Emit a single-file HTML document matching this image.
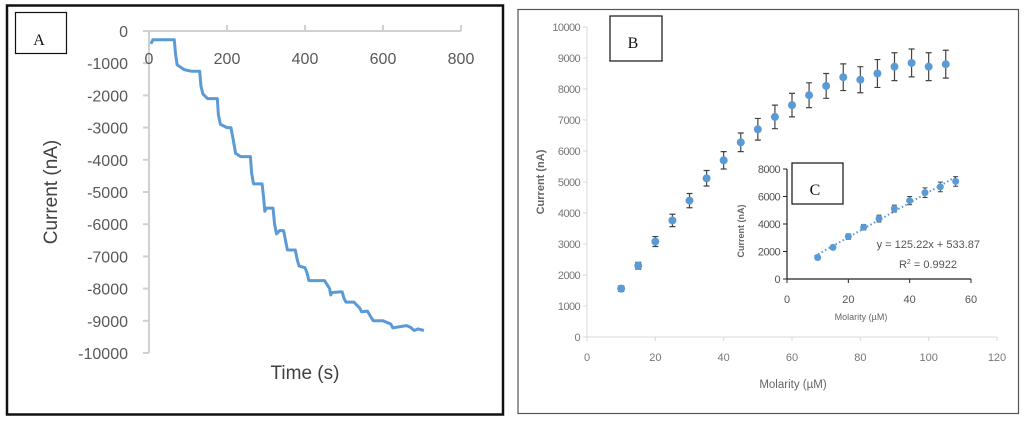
<!DOCTYPE html>
<html><head><meta charset="utf-8"><style>
body{margin:0;background:#fff;width:1024px;height:421px;overflow:hidden;font-family:"Liberation Sans",sans-serif}
svg{position:absolute;left:0;top:0}
</style></head><body>
<svg width="1024" height="421" viewBox="0 0 1024 421">
<g id="panelA">
<rect x="7" y="5.5" width="496" height="409" fill="none" stroke="#111" stroke-width="2.5"/>
<rect x="15.5" y="12.5" width="51" height="41" fill="#fff" stroke="#111" stroke-width="1.2"/>
<text x="39" y="45" font-family="Liberation Serif,serif" font-size="16" text-anchor="middle" fill="#111">A</text>
<g id="axA"></g>
<text x="305" y="379" font-size="19" text-anchor="middle" fill="#404040">Time (s)</text>
<text transform="translate(57,192) rotate(-90)" font-size="19" text-anchor="middle" fill="#404040">Current (nA)</text>
</g>
<g id="panelB">
<rect x="518" y="9.5" width="500.5" height="404" fill="none" stroke="#555" stroke-width="1.2"/>
<g id="axB"></g>
<rect x="610" y="16" width="52" height="45" fill="#fff" stroke="#111" stroke-width="1.2"/>
<text x="633" y="48" font-family="Liberation Serif,serif" font-size="16" text-anchor="middle" fill="#111">B</text>
<text x="793" y="388" font-size="11.5" text-anchor="middle" fill="#666">Molarity (µM)</text>
<text transform="translate(544,182) rotate(-90)" font-size="11" text-anchor="middle" fill="#666" font-weight="bold">Current (nA)</text>
<g id="axC"></g>
<rect x="792" y="163" width="51" height="41" fill="#fff" stroke="#111" stroke-width="1.2"/>
<text x="815" y="195" font-family="Liberation Serif,serif" font-size="16" text-anchor="middle" fill="#111">C</text>
<text x="980" y="248" font-size="11" text-anchor="end" fill="#555">y = 125.22x + 533.87</text>
<text x="957" y="268" font-size="11" text-anchor="end" fill="#555">R<tspan font-size="7" dy="-4">2</tspan><tspan dy="4"> = 0.9922</tspan></text>
<text transform="translate(744,231) rotate(-90)" font-size="9" text-anchor="middle" fill="#666" font-weight="bold">Current (nA)</text>
<text x="861" y="320" font-size="9" text-anchor="middle" fill="#666">Molarity (µM)</text>
</g>
</svg>
<script>
// Panel A data
const timeA=[5,10,65,68,72,90,110,130,133,138,150,175,178,183,200,210,215,222,235,260,263,268,290,294,297,300,318,322,327,335,345,350,355,375,380,385,400,405,410,450,463,466,470,495,500,505,525,540,545,560,570,575,600,620,625,660,670,680,690,705];
const currA=[-400,-270,-270,-700,-1050,-1200,-1250,-1250,-1700,-1950,-2100,-2100,-2600,-2900,-3000,-3000,-3300,-3800,-3900,-3900,-4400,-4750,-4750,-5200,-5600,-5500,-5500,-6000,-6300,-6200,-6200,-6500,-6800,-6800,-7100,-7300,-7350,-7500,-7750,-7750,-8000,-8200,-8120,-8100,-8300,-8420,-8420,-8600,-8720,-8700,-8900,-9000,-9000,-9100,-9220,-9150,-9200,-9300,-9250,-9300];
const xTicksA=[0,200,400,600,800];
const yTicksA=[0,-1000,-2000,-3000,-4000,-5000,-6000,-7000,-8000,-9000,-10000];
// Panel B data
const molB=[10,15,20,25,30,35,40,45,50,55,60,65,70,75,80,85,90,95,100,105];
const curB=[1560,2300,3080,3760,4400,5120,5700,6280,6700,7100,7480,7800,8100,8380,8300,8500,8720,8840,8720,8800];
const errB=[90,110,160,200,230,250,280,300,350,380,380,400,400,430,420,450,450,450,450,450];
const xTicksB=[0,20,40,60,80,100,120];
const yTicksB=[0,1000,2000,3000,4000,5000,6000,7000,8000,9000,10000];
// Panel C data
const molC=[10,15,20,25,30,35,40,45,50,55];
const curC=[1560,2300,3080,3760,4400,5120,5700,6280,6700,7100];
const errC=[150,150,200,200,250,250,300,350,350,350];
const xTicksC=[0,20,40,60];
const yTicksC=[0,2000,4000,6000,8000];
const slopeC=125.22, interceptC=533.87;

const NS="http://www.w3.org/2000/svg";
function mk(parent,tag,attrs){const e=document.createElementNS(NS,tag);for(const k in attrs)e.setAttribute(k,attrs[k]);parent.appendChild(e);return e;}

// Axis A
const xA=t=>149+t*(461-149)/800, yA=v=>31+(-v)*(353-31)/10000;
const gA=document.getElementById('axA');
let e=mk(gA,'line',{x1:149,y1:yA(-10000),x2:149,y2:31,stroke:'#d0d0d0','stroke-width':2});


e=mk(gA,'line',{x1:143,y1:31,x2:461,y2:31,stroke:'#d0d0d0','stroke-width':2});


yTicksA.forEach(v=>{mk(gA,'line',{x1:143,x2:149,y1:yA(v),y2:yA(v),stroke:'#d0d0d0','stroke-width':2});
 const t=mk(gA,'text',{x:128,y:yA(v)+6,'font-size':16,'text-anchor':'end',fill:'#595959'});t.textContent=v;
 
 });
xTicksA.forEach(v=>{if(v>0)mk(gA,'line',{x1:xA(v),x2:xA(v),y1:31,y2:25,stroke:'#d0d0d0','stroke-width':2});
 const t=mk(gA,'text',{x:xA(v),y:64,'font-size':16,'text-anchor':'middle',fill:'#595959'});t.textContent=v;
 
 });
e=mk(gA,'polyline',{points:timeA.map((t,i)=>xA(t).toFixed(1)+','+yA(currA[i]).toFixed(1)).join(' '),fill:'none',stroke:'#5b9bd5','stroke-width':3,'stroke-linejoin':'round'});



// Axis B
const xB=m=>587+m*(997-587)/120, yB=v=>337-v*(337-27)/10000;
const gB=document.getElementById('axB');
e=mk(gB,'line',{x1:587,y1:27,x2:587,y2:337,stroke:'#d9d9d9','stroke-width':1});


e=mk(gB,'line',{x1:587,y1:337,x2:997,y2:337,stroke:'#d9d9d9','stroke-width':1});


yTicksB.forEach(v=>{mk(gB,'line',{x1:583,x2:587,y1:yB(v),y2:yB(v),stroke:'#d9d9d9'});
 const t=mk(gB,'text',{x:580,y:yB(v)+4,'font-size':11,'text-anchor':'end',fill:'#777','letter-spacing':'-0.6'});t.textContent=v;
 
 });
xTicksB.forEach(v=>{mk(gB,'line',{x1:xB(v),x2:xB(v),y1:337,y2:341,stroke:'#d9d9d9'});
 const t=mk(gB,'text',{x:xB(v),y:361,'font-size':11,'text-anchor':'middle',fill:'#777'});t.textContent=v;
 
 });
molB.forEach((m,i)=>{const x=xB(m),y1=yB(curB[i]+errB[i]),y2=yB(curB[i]-errB[i]);
 const g=mk(gB,'g',{});
 
 
 mk(g,'path',{d:`M${x},${y1}V${y2}M${x-3},${y1}H${x+3}M${x-3},${y2}H${x+3}`,stroke:'#444','stroke-width':1.2,fill:'none'});
 mk(g,'circle',{cx:x,cy:yB(curB[i]),r:4,fill:'#5b9bd5'});});

// Axis C
const xC=m=>787+m*(971-787)/60, yC=v=>279-v*(279-169)/8000;
const gC=document.getElementById('axC');
e=mk(gC,'line',{x1:787,y1:169,x2:787,y2:279,stroke:'#222','stroke-width':1.2});


e=mk(gC,'line',{x1:787,y1:279,x2:971,y2:279,stroke:'#222','stroke-width':1.2});


yTicksC.forEach(v=>{mk(gC,'line',{x1:783,x2:787,y1:yC(v),y2:yC(v),stroke:'#222'});
 const t=mk(gC,'text',{x:780,y:yC(v)+4,'font-size':11,'text-anchor':'end',fill:'#555','letter-spacing':'-0.6'});t.textContent=v;
 
 });
xTicksC.forEach(v=>{mk(gC,'line',{x1:xC(v),x2:xC(v),y1:279,y2:283,stroke:'#222'});
 const t=mk(gC,'text',{x:xC(v),y:303,'font-size':11,'text-anchor':'middle',fill:'#555'});t.textContent=v;
 
 });
const m0=molC[0]-1,m1=molC[molC.length-1];
e=mk(gC,'line',{x1:xC(m0),y1:yC(slopeC*m0+interceptC),x2:xC(m1),y2:yC(slopeC*m1+interceptC),stroke:'#5b9bd5','stroke-width':2,'stroke-dasharray':'1.5 2.5'});


molC.forEach((m,i)=>{const x=xC(m),y1=yC(curC[i]+errC[i]),y2=yC(curC[i]-errC[i]);
 const g=mk(gC,'g',{});
 
 
 mk(g,'path',{d:`M${x},${y1}V${y2}M${x-2.5},${y1}H${x+2.5}M${x-2.5},${y2}H${x+2.5}`,stroke:'#444','stroke-width':1,fill:'none'});
 mk(g,'circle',{cx:x,cy:yC(curC[i]),r:3.5,fill:'#5b9bd5'});});
</script>
</body></html>
